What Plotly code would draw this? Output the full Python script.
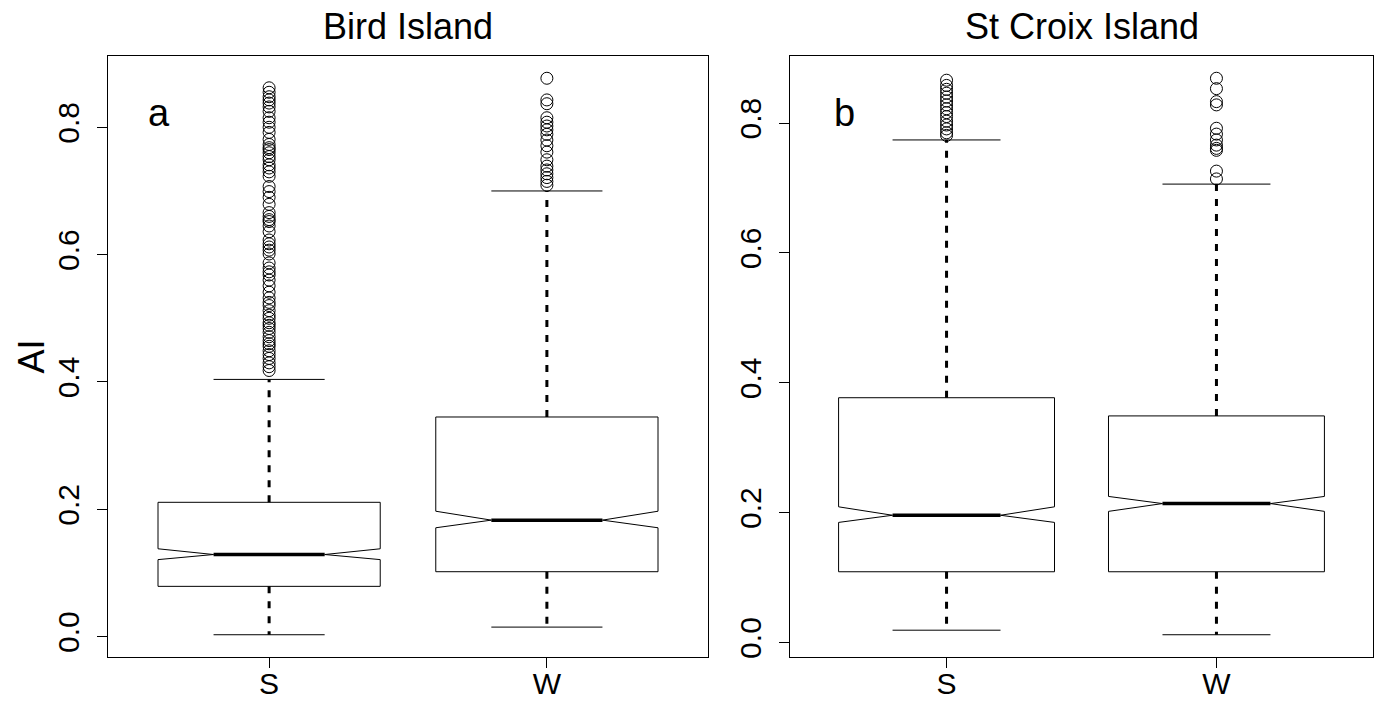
import plotly.graph_objects as go

# ---------------- data ----------------
groups = ["S", "W"]
panel_titles = ["Bird Island", "St Croix Island"]
panel_letters = ["a", "b"]
y_label = "AI"

# Bird Island (panel a)
bird_lower = [0.003, 0.015]
bird_q1 = [0.079, 0.102]
bird_notch_lo = [0.121, 0.171]
bird_median = [0.129, 0.183]
bird_notch_hi = [0.138, 0.197]
bird_q3 = [0.211, 0.345]
bird_upper = [0.404, 0.700]
bird_out_S = [0.862, 0.855, 0.848, 0.843, 0.838, 0.832, 0.825, 0.815, 0.808, 0.800,
              0.792, 0.781, 0.773, 0.768, 0.765, 0.760, 0.754, 0.749, 0.741, 0.736,
              0.730, 0.723, 0.707, 0.699, 0.690, 0.679, 0.666, 0.660, 0.655, 0.652,
              0.645, 0.636, 0.623, 0.617, 0.612, 0.607, 0.601, 0.587, 0.579, 0.573,
              0.568, 0.560, 0.551, 0.541, 0.532, 0.525, 0.520, 0.512, 0.505, 0.500,
              0.493, 0.489, 0.484, 0.478, 0.471, 0.465, 0.460, 0.456, 0.449, 0.443,
              0.437, 0.430, 0.424, 0.418]
bird_out_W = [0.877, 0.843, 0.837, 0.815, 0.808, 0.802, 0.796, 0.789, 0.780, 0.771,
              0.761, 0.749, 0.739, 0.733, 0.727, 0.721, 0.715, 0.709]

# St Croix Island (panel b)
croix_lower = [0.019, 0.012]
croix_q1 = [0.109, 0.109]
croix_notch_lo = [0.185, 0.202]
croix_median = [0.196, 0.214]
croix_notch_hi = [0.209, 0.225]
croix_q3 = [0.377, 0.349]
croix_upper = [0.774, 0.706]
croix_out_S = [0.866, 0.858, 0.852, 0.846, 0.840, 0.834, 0.828, 0.822, 0.816, 0.810,
               0.803, 0.797, 0.791, 0.785, 0.781]
croix_out_W = [0.869, 0.853, 0.833, 0.828, 0.792, 0.783, 0.774, 0.766, 0.761, 0.758,
               0.726, 0.714]

y_ticks = [0.0, 0.2, 0.4, 0.6, 0.8]

panels = [
    dict(lower=bird_lower, q1=bird_q1, nlo=bird_notch_lo, med=bird_median,
         nhi=bird_notch_hi, q3=bird_q3, upper=bird_upper,
         outs=[bird_out_S, bird_out_W]),
    dict(lower=croix_lower, q1=croix_q1, nlo=croix_notch_lo, med=croix_median,
         nhi=croix_notch_hi, q3=croix_q3, upper=croix_upper,
         outs=[croix_out_S, croix_out_W]),
]

# ---------------- layout geometry ----------------
W, H = 1391, 704


def fx(px):
    return px / W


def fy(py):
    return 1 - py / H


x_domains = [[fx(108), fx(708)], [fx(790), fx(1373)]]
y_domain = [fy(657), fy(56)]
BOXW = 0.4  # half box width (R boxwex = 0.8)

fig = go.Figure()
FONT = "Liberation Sans, Arial, sans-serif"

for p, d in enumerate(panels):
    xa = "x" if p == 0 else "x2"
    ya = "y" if p == 0 else "y2"
    all_vals = d["lower"] + d["upper"] + [v for o in d["outs"] for v in o]
    lo, hi = min(all_vals), max(all_vals)
    pad = 0.04 * (hi - lo)
    for i, g in enumerate(groups):
        c = i
        # notched box outline
        bx = [c - BOXW, c - BOXW, c - BOXW / 2, c - BOXW, c - BOXW,
              c + BOXW, c + BOXW, c + BOXW / 2, c + BOXW, c + BOXW, c - BOXW]
        by = [d["q1"][i], d["nlo"][i], d["med"][i], d["nhi"][i], d["q3"][i],
              d["q3"][i], d["nhi"][i], d["med"][i], d["nlo"][i], d["q1"][i], d["q1"][i]]
        fig.add_trace(go.Scatter(x=bx, y=by, mode="lines", xaxis=xa, yaxis=ya,
                                 line=dict(color="black", width=1),
                                 showlegend=False, hoverinfo="skip"))
        # median
        fig.add_trace(go.Scatter(x=[c - BOXW / 2, c + BOXW / 2],
                                 y=[d["med"][i], d["med"][i]], mode="lines",
                                 xaxis=xa, yaxis=ya,
                                 line=dict(color="black", width=3.5),
                                 showlegend=False, hoverinfo="skip"))
        # whiskers (dashed)
        for a, b in [(d["q3"][i], d["upper"][i]), (d["q1"][i], d["lower"][i])]:
            fig.add_trace(go.Scatter(x=[c, c], y=[a, b], mode="lines",
                                     xaxis=xa, yaxis=ya,
                                     line=dict(color="black", width=3, dash="7px,8px"),
                                     showlegend=False, hoverinfo="skip"))
        # staples
        for v in [d["upper"][i], d["lower"][i]]:
            fig.add_trace(go.Scatter(x=[c - BOXW / 2, c + BOXW / 2], y=[v, v],
                                     mode="lines", xaxis=xa, yaxis=ya,
                                     line=dict(color="black", width=1),
                                     showlegend=False, hoverinfo="skip"))
        # outliers
        fig.add_trace(go.Scatter(x=[c] * len(d["outs"][i]), y=d["outs"][i],
                                 mode="markers", xaxis=xa, yaxis=ya,
                                 marker=dict(symbol="circle-open", size=12,
                                             color="black", line=dict(width=1)),
                                 showlegend=False, hoverinfo="skip"))

    axis_common = dict(showline=True, mirror=True, linecolor="black", linewidth=1,
                       showgrid=False, zeroline=False, ticks="outside",
                       ticklen=10, tickcolor="black", tickwidth=1,
                       tickfont=dict(family=FONT, size=30, color="black"))
    xkey = "xaxis" if p == 0 else "xaxis2"
    ykey = "yaxis" if p == 0 else "yaxis2"
    fig.update_layout(**{
        xkey: dict(domain=x_domains[p], range=[-0.58, 1.58],
                   tickvals=list(range(len(groups))), ticktext=groups,
                   anchor=ya, ticklabelstandoff=-10, **axis_common),
        ykey: dict(domain=y_domain, range=[lo - pad, hi + pad],
                   tickvals=y_ticks, ticktext=[f"{t:.1f}" for t in y_ticks],
                   tickangle=-90, anchor=xa, ticklabelstandoff=6,
                   **axis_common),
    })
    # panel title
    fig.add_annotation(text=panel_titles[p], xref="paper", yref="paper",
                       x=sum(x_domains[p]) / 2, y=fy(26),
                       xanchor="center", yanchor="middle", showarrow=False,
                       font=dict(family=FONT, size=36, color="black"))
    # panel letter
    fig.add_annotation(text=panel_letters[p], xref=xa + " domain", yref=ya + " domain",
                       x=0.085 if p == 0 else 0.094, y=0.905,
                       xanchor="center", yanchor="middle", showarrow=False,
                       font=dict(family=FONT, size=38, color="black"))

# y-axis label (left panel only)
fig.add_annotation(text=y_label, xref="paper", yref="y domain",
                   x=fx(31), y=0.5, textangle=-90,
                   xanchor="center", yanchor="middle", showarrow=False,
                   font=dict(family=FONT, size=36, color="black"))

fig.update_layout(
    width=W, height=H, autosize=False,
    margin=dict(l=0, r=0, t=0, b=0, autoexpand=False),
    plot_bgcolor="white", paper_bgcolor="white",
)

fig.write_html(
    "out.html",
    config={"displayModeBar": False},
    post_script="document.body.style.margin='0';document.body.style.overflow='hidden';",
)
